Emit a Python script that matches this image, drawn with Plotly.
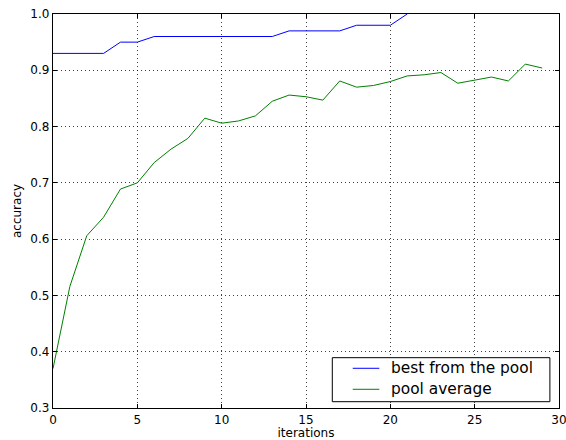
import plotly.graph_objects as go

iterations = list(range(30))
best_iterations = list(range(22))
best_from_pool = [0.93, 0.93, 0.93, 0.93, 0.95, 0.95, 0.96, 0.96, 0.96, 0.96,
                  0.96, 0.96, 0.96, 0.96, 0.97, 0.97, 0.97, 0.97, 0.98, 0.98,
                  0.98, 1.0]
pool_average = [0.370, 0.516, 0.606, 0.639, 0.689, 0.700, 0.736, 0.760, 0.779, 0.815,
                0.806, 0.810, 0.819, 0.845, 0.856, 0.853, 0.847, 0.881, 0.870, 0.873,
                0.880, 0.890, 0.892, 0.896, 0.877, 0.883, 0.888, 0.881, 0.911, 0.904]
x_ticks = [0, 5, 10, 15, 20, 25, 30]
y_ticks = [0.3, 0.4, 0.5, 0.6, 0.7, 0.8, 0.9, 1.0]
series_names = ["best from the pool", "pool average"]
series_colors = ["#0000ff", "#008000"]

FONT = "DejaVu Sans"

fig = go.Figure()
fig.add_trace(go.Scatter(x=best_iterations, y=best_from_pool, mode="lines",
                         name=series_names[0], showlegend=False,
                         line=dict(color=series_colors[0], width=1)))
fig.add_trace(go.Scatter(x=iterations, y=pool_average, mode="lines",
                         name=series_names[1], showlegend=False,
                         line=dict(color=series_colors[1], width=1)))

axis_common = dict(
    showline=True, linecolor="#000000", linewidth=1.3, mirror="ticks",
    ticks="inside", ticklen=4, tickwidth=1, tickcolor="#000000",
    showgrid=True, gridcolor="rgba(0,0,0,0.75)", gridwidth=1, griddash="1px,3px",
    zeroline=False, automargin=False, ticklabeloverflow="allow",
    tickfont=dict(family=FONT, size=12, color="#000000"),
)

fig.update_xaxes(range=[0, 30], tickvals=x_ticks,
                 title=dict(text="iterations", standoff=4,
                            font=dict(family=FONT, size=12, color="#000000")),
                 **axis_common)
fig.update_yaxes(range=[0.3, 1.0], tickvals=y_ticks, tickformat=".1f",
                 title=dict(text="accuracy", standoff=6,
                            font=dict(family=FONT, size=12, color="#000000")),
                 **axis_common)

# Legend box in the lower-right corner of the axes (paper coordinates)
box_x0, box_x1, box_y0, box_y1 = 0.552, 0.982, 0.016, 0.1277
sample_x0, sample_x1, text_x = 0.5923, 0.6449, 0.6646
row_y = [0.1008, 0.0475]

shapes = [dict(type="rect", xref="paper", yref="paper",
               x0=box_x0, x1=box_x1, y0=box_y0, y1=box_y1,
               line=dict(color="#000000", width=1), fillcolor="white", layer="above")]
annotations = []
for name, color, y in zip(series_names, series_colors, row_y):
    shapes.append(dict(type="line", xref="paper", yref="paper",
                       x0=sample_x0, x1=sample_x1, y0=y, y1=y,
                       line=dict(color=color, width=1), layer="above"))
    annotations.append(dict(text=name, xref="paper", yref="paper", x=text_x, y=y,
                            xanchor="left", yanchor="middle", showarrow=False,
                            font=dict(family=FONT, size=15.4, color="#000000")))

fig.update_layout(
    width=566, height=440,
    margin=dict(l=53, r=7, t=14, b=32),
    paper_bgcolor="white", plot_bgcolor="white",
    font=dict(family=FONT, color="#000000"),
    showlegend=False,
    shapes=shapes,
    annotations=annotations,
)

fig.write_html("out.html")
